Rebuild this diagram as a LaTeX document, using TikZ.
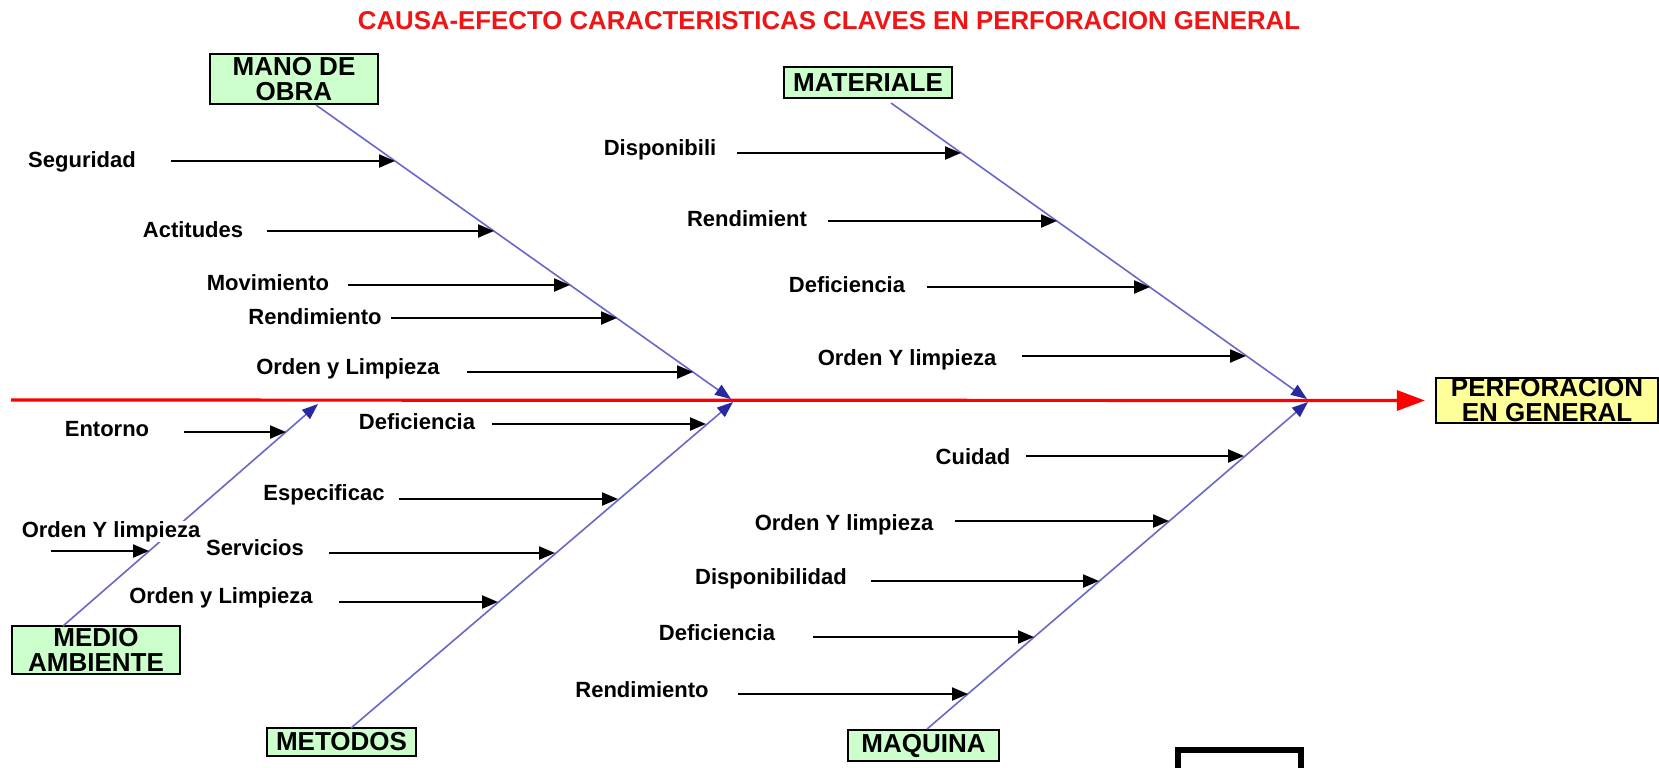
\documentclass[tikz,border=0pt]{standalone}
\usepackage{fontspec}
\setmainfont{Liberation Sans}
\usetikzlibrary{arrows.meta}
\definecolor{boxgreen}{RGB}{204,255,204}
\definecolor{boxyellow}{RGB}{255,255,153}
\definecolor{bonecol}{RGB}{104,104,200}
\definecolor{bonetip}{RGB}{40,40,160}
\definecolor{titlered}{RGB}{240,20,20}
\begin{document}
\begin{tikzpicture}[x=0.5pt,y=-0.5pt,
  catbox/.style={draw=black, line width=1.1pt, fill=boxgreen, inner sep=0pt, align=center,
    font=\fontsize{13}{12.5}\selectfont\bfseries},
  effbox/.style={catbox, fill=boxyellow},
  lab/.style={font=\fontsize{11}{12}\selectfont\bfseries, inner sep=0pt, anchor=base, fill=white},
  sub/.style={line width=1.1pt, -{Triangle[length=8pt,width=6.5pt]}},
  bone/.style={bonecol, line width=0.8pt, -{Triangle[length=8pt,width=6pt,color=bonetip]}},
  spine/.style={red, line width=1.6pt, -{Triangle[length=14pt,width=10pt]}}]
\useasboundingbox (0,0) rectangle (1659,767);
\fill[white] (0,0) rectangle (1659,767);

% title
\node[font=\fontsize{12.9}{14}\selectfont\bfseries, text=titlered] (title) at (829,21)
  {CAUSA-EFECTO CARACTERISTICAS CLAVES EN PERFORACION GENERAL};

% boxes
\node[catbox, minimum width=84pt, minimum height=25pt] (mo) at (294,79) {MANO DE\\OBRA};
\node[catbox, minimum width=84pt, minimum height=15.5pt] (mat) at (868,82.5) {MATERIALE};
\node[effbox, minimum width=111pt, minimum height=22.5pt] (perf) at (1547,400.5) {PERFORACION\\EN GENERAL};
\node[catbox, minimum width=84pt, minimum height=24pt] (ma) at (96,650) {MEDIO\\AMBIENTE};
\node[catbox, minimum width=74.5pt, minimum height=14pt] (met) at (341.5,742) {METODOS};
\node[catbox, minimum width=75.5pt, minimum height=15.5pt] (maq) at (923.5,745.5) {MAQUINA};

% partial box at bottom
\draw[line width=2.6pt] (1178,800) -- (1178,750) -- (1301,750) -- (1301,800);

% spine
\coordinate (sp0) at (11,400);
\draw[spine] (sp0) -- ([xshift=-5pt]perf.west);

% bones
\coordinate (b1s) at (316,105);  \coordinate (b1e) at (731,399);
\coordinate (b2s) at (891,103);  \coordinate (b2e) at (1307,399);
\coordinate (b3s) at (63,626);   \coordinate (b3e) at (318,404);
\coordinate (b4s) at (351,728);  \coordinate (b4e) at (733,402);
\coordinate (b5s) at (927,729);  \coordinate (b5e) at (1308,402);
\draw[bone] (b1s) -- (b1e);
\draw[bone] (b2s) -- (b2e);
\draw[bone] (b3s) -- (b3e);
\draw[bone] (b4s) -- (b4e);
\draw[bone] (b5s) -- (b5e);

% sub-causes: text / label x / label y / arrow start x / arrow end x / arrow y
\foreach \t/\lx/\ly/\sx/\ex/\ay [count=\i] in {
  Seguridad/82/160/171/395/161,
  Actitudes/193/230/267/494/231,
  Movimiento/268/283/348/570/285,
  Rendimiento/315/317/391/617/318,
  Orden y Limpieza/348/367/467/693/372,
  Disponibili/660/148/737/961/153,
  Rendimient/747/219/828/1057/221,
  Deficiencia/847/285/927/1150/287,
  Orden Y limpieza/907/358/1022/1246/356,
  Entorno/107/429/184/286/432,
  Orden Y limpieza/111/530/51/149/551,
  Deficiencia/417/422/492/706/424,
  Especificac/324/493/399/618/499,
  Servicios/255/548/329/555/553,
  Orden y Limpieza/221/596/339/498/602,
  Cuidad/973/457/1026/1244/456,
  Orden Y limpieza/844/523/955/1169/521,
  Disponibilidad/771/577/871/1099/581,
  Deficiencia/717/633/813/1034/637,
  Rendimiento/642/690/738/968/694}{
  \coordinate (s\i) at (\sx,\ay);
  \coordinate (e\i) at (\ex,\ay);
  \draw[sub] (s\i) -- (e\i);
  \node[lab] (c\i) at (\lx,\ly+7) {\t};
}
\end{tikzpicture}
\end{document}
